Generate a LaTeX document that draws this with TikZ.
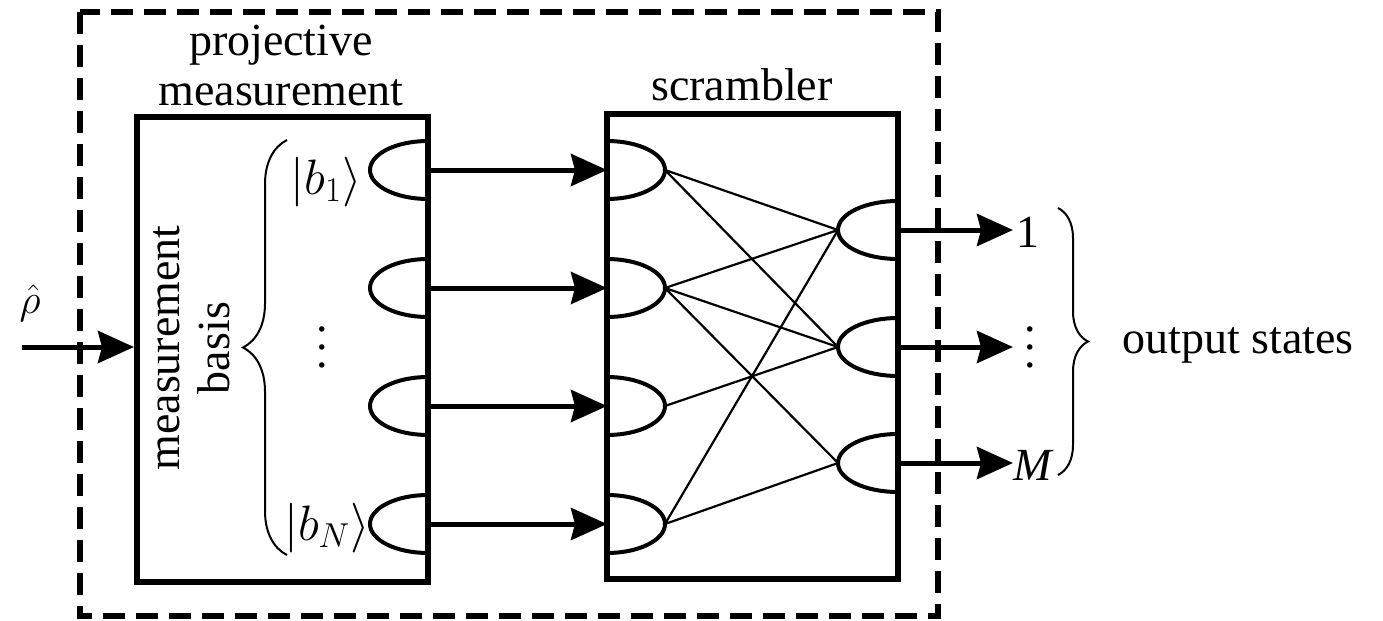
\documentclass[tikz,border=0pt]{standalone}
\usepackage{amsmath}
\usepackage{fontspec}
\setmainfont{LiberationSerif}[Extension=.ttf, UprightFont=*-Regular, ItalicFont=*-Italic, BoldFont=*-Bold]
\usepackage{tikz}
\usetikzlibrary{arrows.meta,positioning,calc,decorations.pathreplacing}
\tikzset{
  unit/.style={draw, line width=3pt, minimum width=145.5pt, minimum height=232.5pt, inner sep=0pt},
  frame/.style={draw, line width=2.6pt, dash pattern=on 11pt off 5.5pt},
  det/.style={line width=2pt},
  flow/.style={-{Stealth[length=18pt, width=16pt, inset=2pt]}, line width=2.5pt},
  wire/.style={line width=1.1pt},
  lbl/.style={font=\fontsize{23}{25}\selectfont, align=center, inner sep=0pt},
  cbrace/.style={decorate, decoration={brace, amplitude=#1}, line width=1pt},
}
\newcommand{\bket}[1]{|#1\rangle}
\newcommand{\tallvdots}{\vbox{\baselineskip=9pt\lineskiplimit=-20pt\hbox{.}\hbox{.}\hbox{.}}}

\begin{document}
\begin{tikzpicture}[x=0.5pt, y=-0.5pt]
\useasboundingbox (0,0) rectangle (1383,621);
\draw[frame] (80,12) rectangle (938,616);

\node[unit] (pm) at (282.5,349.5) {};
\node[unit] (scr) at (752.5,346) {};
\node[lbl] (pmlbl) at (281,65) {projective\\measurement};
\node[lbl] (scrlbl) at (742,85) {scrambler};
\node[lbl, rotate=90] (basis) at (192,348) {measurement\\basis};

% detectors of the measurement
\foreach \y [count=\i] in {170,288,406,524} {
  \draw[det] (428,\y+29) arc[start angle=90, end angle=270, x radius=58, y radius=29];
  \draw[det] (607,\y+29) arc[start angle=90, end angle=-90, x radius=58, y radius=29];
  \coordinate (b\i) at (428,\y);
  \coordinate (s\i) at (607,\y);
  \coordinate (l\i) at (665,\y);
  \draw[flow] (b\i) -- (s\i);
}
\foreach \y [count=\i] in {230,347,463} {
  \draw[det] (898,\y+29) arc[start angle=90, end angle=270, x radius=60, y radius=29];
  \coordinate (r\i) at (838,\y);
  \coordinate (q\i) at (898,\y);
}

% scrambling paths
\draw[wire] (l1) -- (r1) (l1) -- (r2);
\draw[wire] (l2) -- (r1) (l2) -- (r2) (l2) -- (r3);
\draw[wire] (l3) -- (r2);
\draw[wire] (l4) -- (r1) (l4) -- (r3);

\node[lbl] (k1) at (326,182) {$\bket{b_1}$};
\node[lbl] (kdots) at (322,347) {\tallvdots};
\node[lbl] (kN) at (327,528) {$\bket{b_N}$};
\draw[cbrace=22pt] (287,555) -- (287,140);

% input
\coordinate (in) at (22,347);
\node[font=\fontsize{20}{22}\selectfont, inner sep=0pt] (rho) at (30,303) {$\hat{\rho}$};
\draw[flow] (in) -- (in -| pm.west);

% outputs
\node[lbl, anchor=west] (o1) at (1016,232) {1};
\node[lbl, anchor=west] (o2) at (1024,347) {\tallvdots};
\node[lbl, anchor=west] (o3) at (1013,465) {\textit{M}};
\draw[flow] (q1) -- (q1 -| 1013,0);
\draw[flow] (q2) -- (q2 -| 1013,0);
\draw[flow] (q3) -- (q3 -| o3.west);
\draw[cbrace=15pt] (1058,208) -- (1058,475);
\node[lbl] (outs) at (1238,345) {output states};
\end{tikzpicture}
\end{document}
